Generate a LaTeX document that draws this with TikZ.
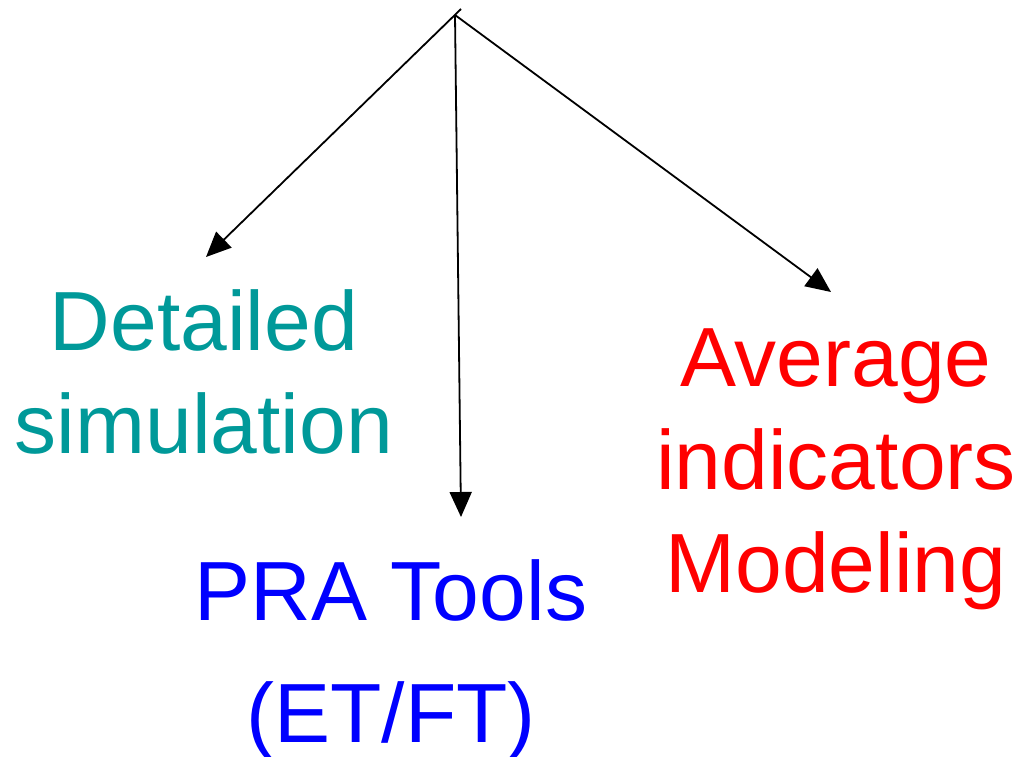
\documentclass[tikz,border=0pt]{standalone}
\usepackage{fontspec}
\setmainfont{Liberation Sans}
\usetikzlibrary{arrows.meta}
\definecolor{tealtxt}{RGB}{0,153,153}
\definecolor{bluetxt}{RGB}{0,0,255}
\definecolor{redtxt}{RGB}{255,0,0}
\tikzset{
  lbl/.style={inner sep=0pt, outer sep=0pt, align=center, anchor=base,
    font=\fontsize{84}{103}\selectfont},
  conn/.style={line width=1.8pt, -{Triangle[length=25pt,width=22pt]}}
}
\begin{document}
\begin{tikzpicture}[x=1pt,y=-1pt]
\useasboundingbox (0,0) rectangle (1022,756);
\coordinate (apex) at (455,15);
\coordinate (stub) at (461,9);
\coordinate (tl) at (206,257);
\coordinate (tm) at (461,517);
\coordinate (tr) at (831,292);
\draw[conn] (stub) -- (tl);
\draw[conn] (apex) -- (tm);
\draw[conn] (apex) -- (tr);
\node[lbl, text=tealtxt] (det) at (204,453) {Detailed\\simulation};
\node[lbl, text=bluetxt] (pra) at (391,742) {PRA Tools\\[19pt](ET/FT)};
\node[lbl, text=redtxt] (avg) at (836,592) {Average\\indicators\\Modeling};
\end{tikzpicture}
\end{document}
